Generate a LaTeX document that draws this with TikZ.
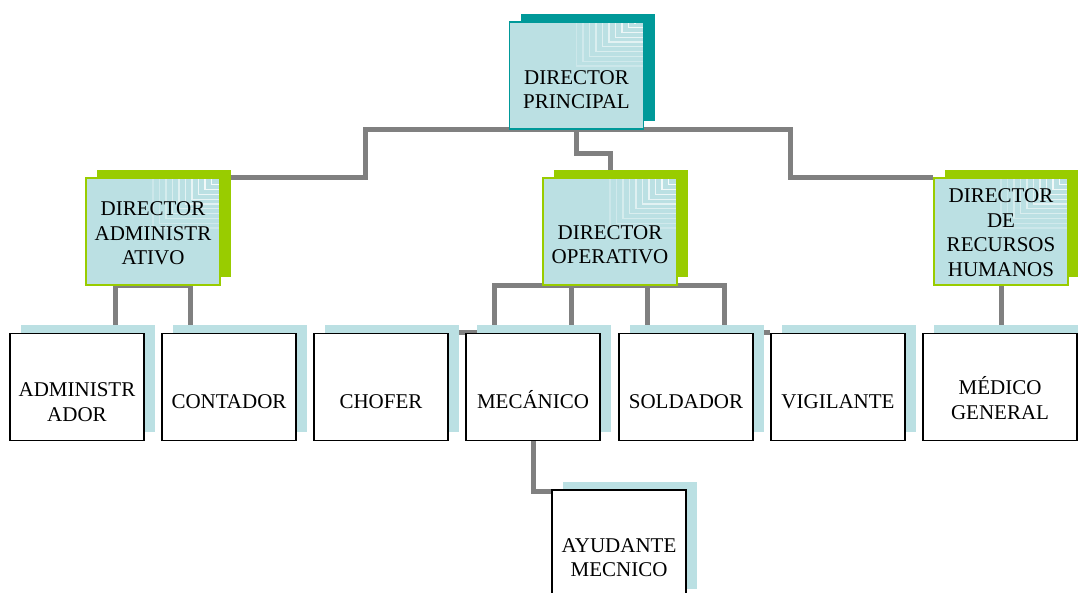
\documentclass[tikz,border=0pt]{standalone}
\usepackage{fontspec}
\setmainfont{Liberation Serif}
\usepackage{tikz}
\usetikzlibrary{shadows,backgrounds,calc}
\definecolor{boxblue}{HTML}{BBE0E3}
\definecolor{darkteal}{HTML}{009999}
\definecolor{leafgreen}{HTML}{99CC00}
\definecolor{linkgray}{HTML}{808080}
\tikzset{
 box/.style={minimum width=134pt, minimum height=107pt, inner sep=0pt},
 fan/.style={path picture={
   \foreach \i [evaluate=\i as \op using 0.25+0.07*\i] in {0,...,9}
    \draw[white, line width=1.3pt, opacity=\op]
     ($(path picture bounding box.north)+(\i*6.5pt,-1pt)$) |- ($(path picture bounding box.north east)+(0pt,-#1+\i*4.8pt)$);
 }},
 topbox/.style={box, fill=boxblue, draw=darkteal, line width=1.5pt, fan=44pt,
   general shadow={fill=darkteal, shadow xshift=11pt, shadow yshift=8pt}},
 dirbox/.style={box, fill=boxblue, draw=leafgreen, line width=1.5pt, fan=50pt,
   general shadow={fill=leafgreen, shadow xshift=11pt, shadow yshift=8pt}},
 jobbox/.style={box, fill=white, draw=black, line width=1.6pt,
   general shadow={fill=boxblue, shadow xshift=11pt, shadow yshift=8.5pt}},
 boxtext/.style={align=center, font=\fontsize{21}{24.5}\selectfont, inner sep=0pt},
 link/.style={draw=linkgray, line width=5pt},
}

\begin{document}
\begin{tikzpicture}[x=1pt,y=-1pt]
\useasboundingbox (0,0) rectangle (1078,592);
\node[topbox, label={[boxtext,yshift=-14pt]center:DIRECTOR\\PRINCIPAL}] (dp) at (576.5,75.5) {};
\node[dirbox, label={[boxtext,yshift=-2pt]center:DIRECTOR\\ADMINISTR\\ATIVO}] (da) at (153,231.5) {};
\node[dirbox, label={[boxtext,yshift=-13pt]center:DIRECTOR\\OPERATIVO}] (do) at (610,231.5) {};
\node[dirbox, label={[boxtext,yshift=-1pt]center:DIRECTOR\\DE\\RECURSOS\\HUMANOS}] (drh) at (1001,231.5) {};
\foreach \x/\name/\txt/\dy in {77/adm/{ADMINISTR\\ADOR}/15,229/cont/CONTADOR/15,381/chof/CHOFER/15,533/mec/MECÁNICO/13,686/sold/SOLDADOR/15,838/vig/VIGILANTE/15}
  \node[jobbox, label={[boxtext,yshift=-\dy pt]center:\txt}] (\name) at (\x,387) {};
\node[jobbox, minimum width=154pt, label={[boxtext,yshift=-11pt]center:MÉDICO\\GENERAL}] (med) at (1000,387) {};
\node[jobbox, label={[boxtext,yshift=-14pt]center:AYUDANTE\\MECNICO}] (ayu) at (619,543.5) {};
\begin{scope}[on background layer]
\draw[link] (dp.south) -- ++(-211.5,0) |- (da.north east);
\draw[link] (dp.south) -- ++(213.5,0) |- (drh.north west);
\draw[link] (dp.south) -- ++(0,24) -| (do.north);
\draw[link] (da.south) -| ([xshift=38pt]adm.north);
\draw[link] (da.south) -| ([xshift=-39pt]cont.north);
\draw[link] (do.south) -- ++(-116,0) |- (chof.north east);
\draw[link] (do.south) -| ([xshift=38pt]mec.north);
\draw[link] (do.south) -| ([xshift=-39pt]sold.north);
\draw[link] (do.south) -- ++(114,0) |- (vig.north west);
\draw[link] (drh.south) -- (drh.south |- med.north);
\draw[link] (mec.south) |- ([yshift=-2pt]ayu.north west);
\end{scope}
\end{tikzpicture}
\end{document}
